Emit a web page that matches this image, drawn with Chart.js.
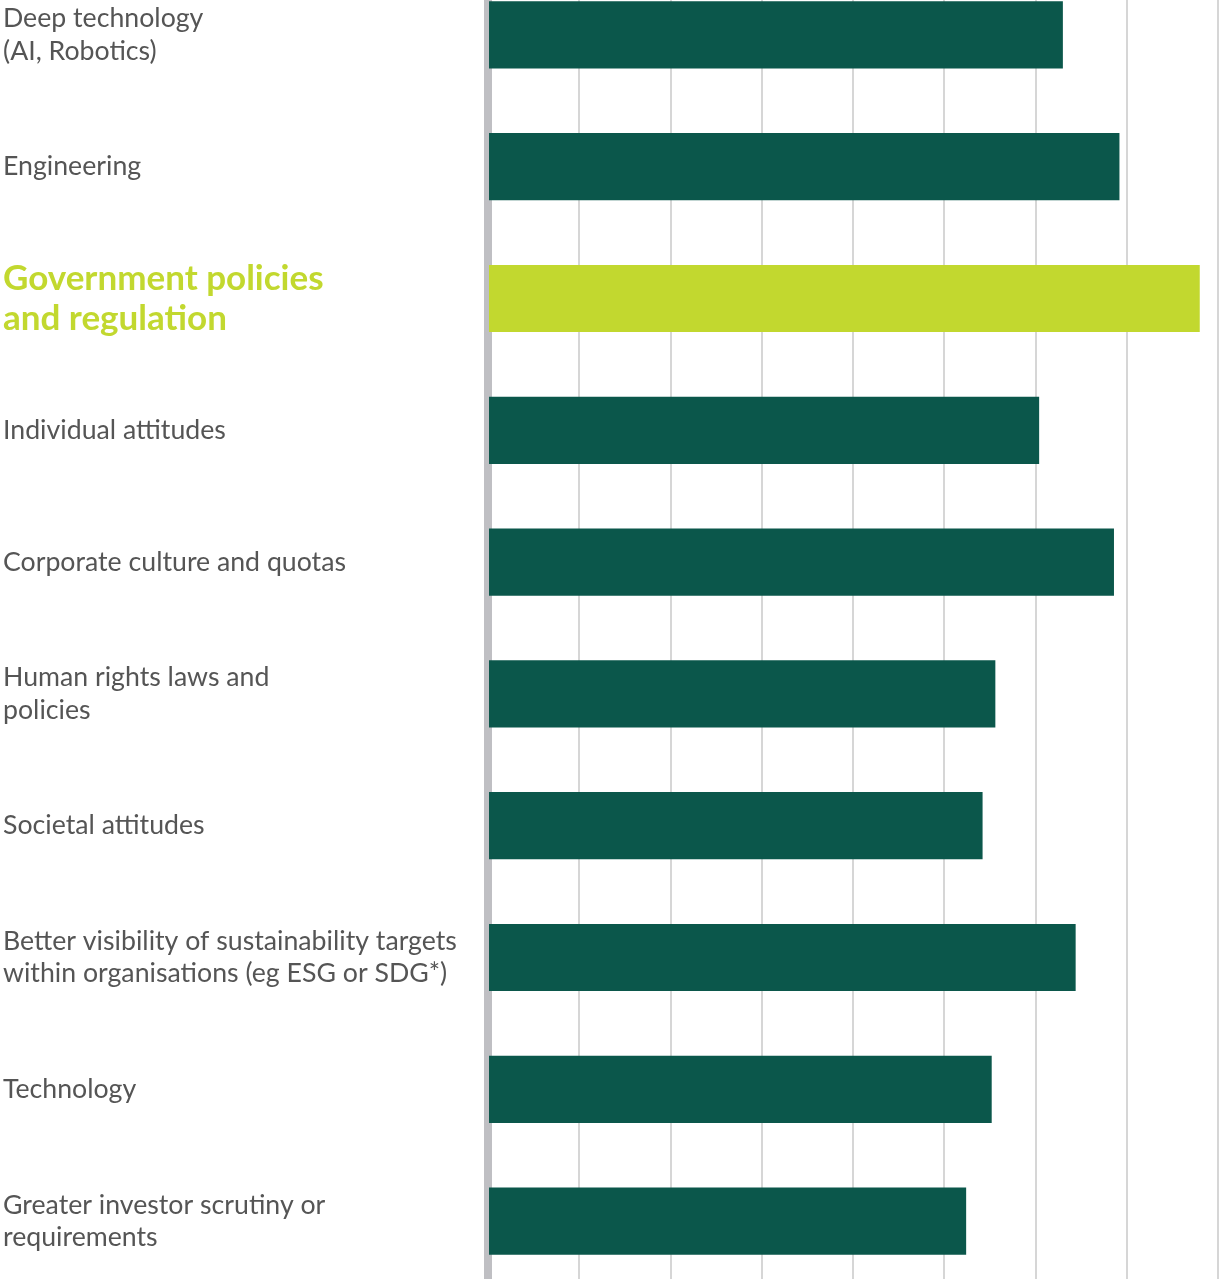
<!DOCTYPE html>
<html>
<head>
<meta charset="utf-8">
<script src="https://cdn.jsdelivr.net/npm/chart.js@4/dist/chart.umd.min.js"></script>
<style>
    html, body { margin: 0; padding: 0; background: #fff; overflow: hidden; }
    body { width: 1219px; height: 1279px; position: relative; }
    #wrap { position: absolute; left: 0; top: -31px; width: 1219px; height: 1318px; }
</style>
</head>
<body>
<div id="wrap"><canvas id="chart"></canvas></div>
<script>
    "use strict";

    const categories = [
        ['Deep technology', '(AI, Robotics)'],
        'Engineering',
        ['Government policies', 'and regulation'],
        'Individual attitudes',
        'Corporate culture and quotas',
        ['Human rights laws and', 'policies'],
        'Societal attitudes',
        ['Better visibility of sustainability targets', 'within organisations (eg ESG or SDG*)'],
        'Technology',
        ['Greater investor scrutiny or', 'requirements']
    ];
    const values = [31.5, 34.6, 39.0, 30.2, 34.3, 27.8, 27.1, 32.2, 27.6, 26.2];
    const highlightIndex = 2;

    const darkGreen = '#0b574b';
    const lime = '#c2d82f';
    const labelGray = '#555555';

    const barColors = values.map((v, i) => i === highlightIndex ? lime : darkGreen);

    new Chart(document.getElementById('chart'), {
        type: 'bar',
        data: {
            labels: categories,
            datasets: [{
                data: values,
                backgroundColor: barColors,
                borderWidth: 0,
                barPercentage: 0.51,
                categoryPercentage: 1
            }]
        },
        options: {
            indexAxis: 'y',
            responsive: true,
            maintainAspectRatio: false,
            animation: false,
            layout: { padding: { left: 3, right: 1, top: 0, bottom: 0 } },
            plugins: {
                legend: { display: false },
                tooltip: { enabled: false }
            },
            scales: {
                x: {
                    min: 0,
                    max: 40,
                    ticks: { display: false, stepSize: 5 },
                    border: { display: false },
                    grid: {
                        color: ctx => ctx.index === 0 ? 'rgba(0,0,0,0)' : '#d6d6d6',
                        lineWidth: 2,
                        drawTicks: false
                    },
                    afterFit: function (scale) { scale.height = 0; }
                },
                y: {
                    ticks: {
                        crossAlign: 'far',
                        padding: 0,
                        color: ctx => ctx.index === highlightIndex ? lime : labelGray,
                        font: ctx => ctx.index === highlightIndex
                            ? { family: 'Lato', size: 35, weight: '700', lineHeight: 1.14 }
                            : { family: 'Lato', size: 26.7, weight: '400', lineHeight: 1.2 }
                    },
                    grid: { display: false, drawTicks: false },
                    border: { display: true, color: '#bfbfc3', width: 8 },
                    afterFit: function (scale) {
                        scale.width = 485;
                        scale.paddingTop = 0;
                        scale.paddingBottom = 0;
                    }
                }
            }
        }
    });
</script>
</body>
</html>
